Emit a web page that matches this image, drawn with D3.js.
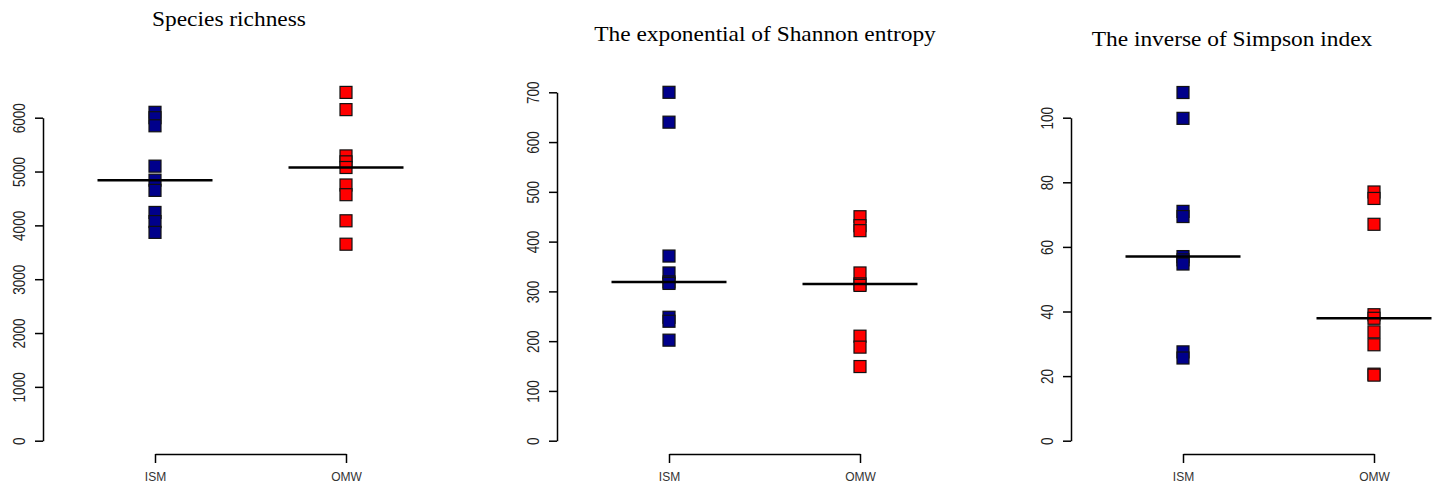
<!DOCTYPE html>
<html>
<head>
<meta charset="utf-8">
<script src="https://cdn.jsdelivr.net/npm/d3@7"></script>
<style>
  html, body { margin: 0; padding: 0; background: #fff; }
  svg { display: block; }
</style>
</head>
<body>
<div id="chart"></div>
<script>
// Data
const groups = ["ISM", "OMW"];
const titles = ["Species richness", "The exponential of Shannon entropy", "The inverse of Simpson index"];

const richnessISM = [6100, 6000, 5850, 5100, 4840, 4650, 4240, 4070, 3870];
const richnessOMW = [6470, 6150, 5290, 5180, 5075, 4750, 4570, 4085, 3650];
const shannonISM = [700, 640, 371, 337, 319, 316, 248, 240, 202];
const shannonOMW = [450, 432, 422, 337, 315, 312, 210, 188, 149];
const simpsonISM = [107.8, 99.8, 71, 69.4, 57, 56, 54.7, 27.5, 25.6];
const simpsonOMW = [77, 75, 67, 39, 37.9, 33.7, 29.7, 20.6, 20.3];

const richnessTicks = [0, 1000, 2000, 3000, 4000, 5000, 6000];
const shannonTicks = [0, 100, 200, 300, 400, 500, 600, 700];
const simpsonTicks = [0, 20, 40, 60, 80, 100];

// Layout
const W = 1439, H = 485;
const panelStep = 514;
const axisX = 43;
const yBottom = 440.7;
const bracketY = 454;

const panels = [
  { title: titles[0], values: [richnessISM, richnessOMW], ticks: richnessTicks, top: 117.7, titleX: 229, titleY: 26 },
  { title: titles[1], values: [shannonISM, shannonOMW], ticks: shannonTicks, top: 92.3, titleX: 251, titleY: 41 },
  { title: titles[2], values: [simpsonISM, simpsonOMW], ticks: simpsonTicks, top: 117.7, titleX: 204, titleY: 46 }
];

const svg = d3.select("#chart").append("svg")
  .attr("width", W)
  .attr("height", H);

const x = d3.scalePoint()
  .domain(groups)
  .range([155, 346]);

const halfLine = 57.5;
const sq = 12;
const colors = ["#00008b", "#ff0000"];

panels.forEach((p, i) => {
  const g = svg.append("g").attr("transform", `translate(${i * panelStep},0)`);

  const y = d3.scaleLinear()
    .domain([0, d3.max(p.ticks)])
    .range([yBottom, p.top]);

  // Title
  g.append("text")
    .attr("transform", `translate(${p.titleX},${p.titleY}) scale(1.17,1)`)
    .attr("text-anchor", "middle")
    .style("font-family", "'Liberation Serif', 'Times New Roman', serif")
    .style("font-size", "20px")
    .style("fill", "#000")
    .text(p.title);

  // Y axis
  const yAxis = g.append("g")
    .attr("transform", `translate(${axisX},0)`)
    .call(d3.axisLeft(y).tickValues(p.ticks).tickFormat(d3.format("d"))
      .tickSize(8).tickPadding(0).tickSizeOuter(0));
  yAxis.select(".domain").attr("stroke", "#000").attr("stroke-width", 1.5);
  yAxis.selectAll(".tick line").attr("stroke", "#000").attr("stroke-width", 1.5);
  yAxis.selectAll(".tick text")
    .attr("x", null).attr("dy", null)
    .attr("transform", "translate(-23,0) rotate(-90) scale(1,1.17)")
    .attr("text-anchor", "middle")
    .attr("dominant-baseline", "central")
    .style("font-family", "'Liberation Sans', Arial, sans-serif")
    .style("font-size", "13.5px")
    .style("fill", "#222");

  // X axis (bracket)
  const xAxis = g.append("g")
    .attr("transform", `translate(0,${bracketY})`)
    .call(d3.axisBottom(x).tickSize(9).tickPadding(9).tickSizeOuter(0));
  xAxis.select(".domain").attr("stroke", "#000").attr("stroke-width", 1.5);
  xAxis.selectAll(".tick line").attr("stroke", "#000").attr("stroke-width", 1.5);
  xAxis.selectAll(".tick text")
    .style("font-family", "'Liberation Sans', Arial, sans-serif")
    .style("font-size", "12px")
    .style("fill", "#333");

  // Points
  groups.forEach((grp, k) => {
    g.selectAll(`.pt-${k}`)
      .data(p.values[k])
      .enter().append("rect")
      .attr("class", `pt-${k}`)
      .attr("x", x(grp) - sq / 2)
      .attr("y", d => y(d) - sq / 2)
      .attr("width", sq)
      .attr("height", sq)
      .style("fill", colors[k])
      .style("stroke", "#111")
      .style("stroke-width", 1.2);

    // Median line
    const m = d3.median(p.values[k]);
    g.append("line")
      .attr("x1", x(grp) - halfLine)
      .attr("x2", x(grp) + halfLine)
      .attr("y1", y(m))
      .attr("y2", y(m))
      .attr("stroke", "#000")
      .attr("stroke-width", 2.5);
  });
});
</script>
</body>
</html>
